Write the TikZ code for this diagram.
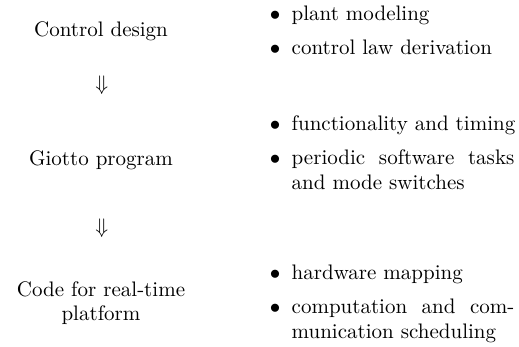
\documentclass[tikz,border=0pt]{standalone}
\begin{document}
\begin{tikzpicture}[x=0.476pt,y=-0.476pt,
  txt/.style={inner sep=0pt,outer sep=0pt,anchor=base west},
  ctr/.style={inner sep=0pt,outer sep=0pt,anchor=base},
  bul/.style={inner sep=0pt,outer sep=0pt,anchor=base}]
\useasboundingbox (0,0) rectangle (519,347);
% left column
\node[ctr] (cd) at (101,36.7) {Control design};
\node[ctr] (a1) at (101.7,91) {$\Downarrow$};
\node[ctr] (gp) at (101,166) {Giotto program};
\node[ctr] (a2) at (101.7,234) {$\Downarrow$};
\node[ctr] (cf1) at (101,297) {Code for real-time};
\node[ctr] (cf2) at (101,321) {platform};
% right column
\node[bul] (b1) at (275,20.7) {$\bullet$};
\node[txt] (t1) at (291.7,20.7) {plant modeling};
\node[bul] (b2) at (275,54.3) {$\bullet$};
\node[txt] (t2) at (291.7,54.3) {control law derivation};
\node[bul] (b3) at (275,130.7) {$\bullet$};
\node[txt] (t3) at (291.7,130.7) {functionality and timing};
\node[bul] (b4) at (275,164.3) {$\bullet$};
\node[txt] (t4) at (291.7,164.3) {\makebox[106pt][s]{periodic software tasks}};
\node[txt] (t4b) at (291.7,190) {and mode switches};
\node[bul] (b5) at (275,280) {$\bullet$};
\node[txt] (t5) at (291.7,280) {hardware mapping};
\node[bul] (b6) at (275,313.3) {$\bullet$};
\node[txt] (t6) at (291.7,313.3) {\makebox[106pt][s]{computation and com-}};
\node[txt] (t6b) at (291.7,338.3) {munication scheduling};
\end{tikzpicture}
\end{document}
